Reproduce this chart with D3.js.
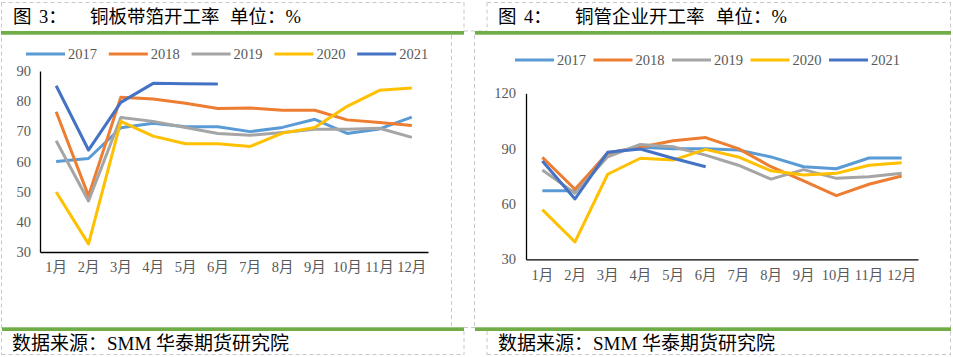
<!DOCTYPE html>
<html>
<head>
<meta charset="utf-8">
<script src="https://cdn.jsdelivr.net/npm/d3@7/dist/d3.min.js"></script>
<style>
  html, body { margin: 0; padding: 0; background: #fff; }
  svg { display: block; }
  text { font-family: "Liberation Serif", "Noto Sans CJK SC", serif; }
</style>
</head>
<body>
<svg id="chart" width="953" height="357"></svg>
<script>
// ---------- DATA ----------
const months = ["1月","2月","3月","4月","5月","6月","7月","8月","9月","10月","11月","12月"];
const seriesNames = ["2017","2018","2019","2020","2021"];
const seriesColors = ["#5B9BD5","#ED7D31","#A5A5A5","#FFC000","#4472C4"];

// Figure 3: 铜板带箔开工率
const plate2017 = [60.0, 61.0, 71.2, 72.7, 71.5, 71.5, 69.9, 71.3, 74.0, 69.3, 70.8, 74.7];
const plate2018 = [76.5, 48.6, 81.3, 80.7, 79.3, 77.6, 77.7, 77.0, 77.0, 73.8, 72.9, 71.9];
const plate2019 = [66.9, 46.9, 74.6, 73.3, 71.3, 69.3, 68.7, 69.6, 70.7, 70.7, 71.0, 68.0];
const plate2020 = [49.9, 32.7, 73.3, 68.4, 65.9, 65.9, 65.0, 69.4, 71.3, 78.3, 83.6, 84.4];
const plate2021 = [85.1, 63.8, 79.6, 85.9, 85.8, 85.7];
const plateTicks = [30, 40, 50, 60, 70, 80, 90];

// Figure 4: 铜管企业开工率
const tube2017 = [67.2, 67.2, 87.8, 90.8, 90.0, 90.0, 89.3, 85.5, 80.2, 79.1, 84.9, 84.9];
const tube2018 = [85.3, 68.0, 87.5, 90.7, 94.3, 96.0, 90.0, 80.2, 72.5, 64.5, 70.7, 75.2];
const tube2019 = [78.4, 65.8, 85.6, 92.3, 91.0, 86.5, 81.0, 73.5, 78.6, 73.9, 74.8, 76.6];
const tube2020 = [56.9, 39.4, 76.1, 84.8, 83.8, 89.6, 85.5, 78.0, 75.7, 76.6, 81.0, 82.4];
const tube2021 = [83.3, 62.7, 88.0, 89.8, 84.8, 80.2];
const tubeTicks = [30, 60, 90, 120];

// ---------- DRAW ----------
const svg = d3.select("#chart");
const dashColor = "#c8c8c8";
const green = "#70AD47";
const labelColor = "#595959";

function dline(x1, y1, x2, y2) {
  svg.append("line").attr("x1", x1).attr("y1", y1).attr("x2", x2).attr("y2", y2)
    .attr("stroke", dashColor).attr("stroke-width", 1).attr("stroke-dasharray", "4,3");
}

// frame: dashed borders
dline(1.5, 2.5, 464, 2.5);
dline(487, 2.5, 950.5, 2.5);
dline(1.5, 2.5, 1.5, 355);
dline(464, 2.5, 464, 31);
dline(487, 2.5, 487, 31);
dline(464, 31, 487, 31);
dline(950.5, 2.5, 950.5, 355);
dline(451.5, 35, 451.5, 327);
dline(474.5, 35, 474.5, 327);
dline(464, 327.5, 475, 327.5);
dline(464, 331, 464, 355);
dline(487, 331, 487, 355);
dline(1.5, 354.5, 464, 354.5);
dline(487, 354.5, 950.5, 354.5);

// green bars
svg.append("rect").attr("x", 1).attr("y", 31).attr("width", 463).attr("height", 3.7).attr("fill", green);
svg.append("rect").attr("x", 475).attr("y", 31).attr("width", 476).attr("height", 3.7).attr("fill", green);
svg.append("rect").attr("x", 2).attr("y", 327.3).attr("width", 462).attr("height", 3.7).attr("fill", green);
svg.append("rect").attr("x", 475).attr("y", 327.3).attr("width", 476).attr("height", 3.7).attr("fill", green);

// titles
function title(x0, num, main, unitX) {
  const g = svg.append("g").attr("font-size", 18.5).attr("fill", "#000");
  g.append("text").attr("x", x0).attr("y", 23).text("图");
  g.append("text").attr("x", x0 + 26).attr("y", 23).text(num + "：");
  g.append("text").attr("x", x0 + 77).attr("y", 23).text(main);
  g.append("text").attr("x", unitX).attr("y", 23).text("单位：%");
}
title(13, "3", "铜板带箔开工率", 230);
title(498, "4", "铜管企业开工率", 716);

// footers
svg.append("text").attr("x", 12).attr("y", 349.5).attr("font-size", 19).attr("fill", "#000").text("数据来源：SMM 华泰期货研究院");
svg.append("text").attr("x", 498).attr("y", 349.5).attr("font-size", 19).attr("fill", "#000").text("数据来源：SMM 华泰期货研究院");

function drawChart(cfg) {
  const x = d3.scaleBand().domain(months).range([cfg.x0, cfg.x1]);
  const y = d3.scaleLinear().domain(cfg.domain).range([cfg.y0, cfg.y1]);
  const g = svg.append("g");

  // y axis
  const ya = g.append("g").attr("transform", `translate(${cfg.x0},0)`)
    .call(d3.axisLeft(y).tickValues(cfg.ticks).tickSize(0).tickPadding(cfg.yPad));
  ya.select(".domain").attr("stroke", "#000").attr("stroke-width", 1.3);
  ya.selectAll("text").attr("fill", labelColor).attr("font-size", 14.5)
    .attr("font-family", "Liberation Serif, serif");

  // x axis
  const xa = g.append("g").attr("transform", `translate(0,${cfg.y0})`)
    .call(d3.axisBottom(x).tickSize(0).tickPadding(cfg.xPad));
  xa.select(".domain").attr("stroke", "#000").attr("stroke-width", 1.3);
  xa.selectAll("text").attr("fill", labelColor).attr("font-size", 14.5)
    .attr("font-family", "Liberation Serif, Noto Sans CJK SC, serif");

  const line = d3.line()
    .x((d, i) => x(months[i]) + x.bandwidth() / 2)
    .y(d => y(d));

  cfg.series.forEach((s, k) => {
    g.append("path").datum(s).attr("d", line)
      .attr("fill", "none").attr("stroke", seriesColors[k])
      .attr("stroke-width", 3).attr("stroke-linejoin", "round").attr("stroke-linecap", "butt");
  });

  // legend
  const lg = g.append("g");
  seriesNames.forEach((n, k) => {
    const lx = cfg.legX + k * cfg.legStep;
    lg.append("line").attr("x1", lx).attr("x2", lx + 39).attr("y1", cfg.legY).attr("y2", cfg.legY)
      .attr("stroke", seriesColors[k]).attr("stroke-width", 3);
    lg.append("text").attr("x", lx + 42).attr("y", cfg.legY + 5).attr("font-size", 14.5)
      .attr("fill", labelColor).text(n);
  });
}

drawChart({
  x0: 40, x1: 428, y0: 252, y1: 71, domain: [30, 90], ticks: plateTicks,
  yPad: 9, xPad: 10,
  series: [plate2017, plate2018, plate2019, plate2020, plate2021],
  legX: 26, legStep: 82.8, legY: 54
});

drawChart({
  x0: 526, x1: 918, y0: 259.3, y1: 93.3, domain: [30, 120], ticks: tubeTicks,
  yPad: 10, xPad: 10,
  series: [tube2017, tube2018, tube2019, tube2020, tube2021],
  legX: 515, legStep: 78.5, legY: 60
});
</script>
</body>
</html>
